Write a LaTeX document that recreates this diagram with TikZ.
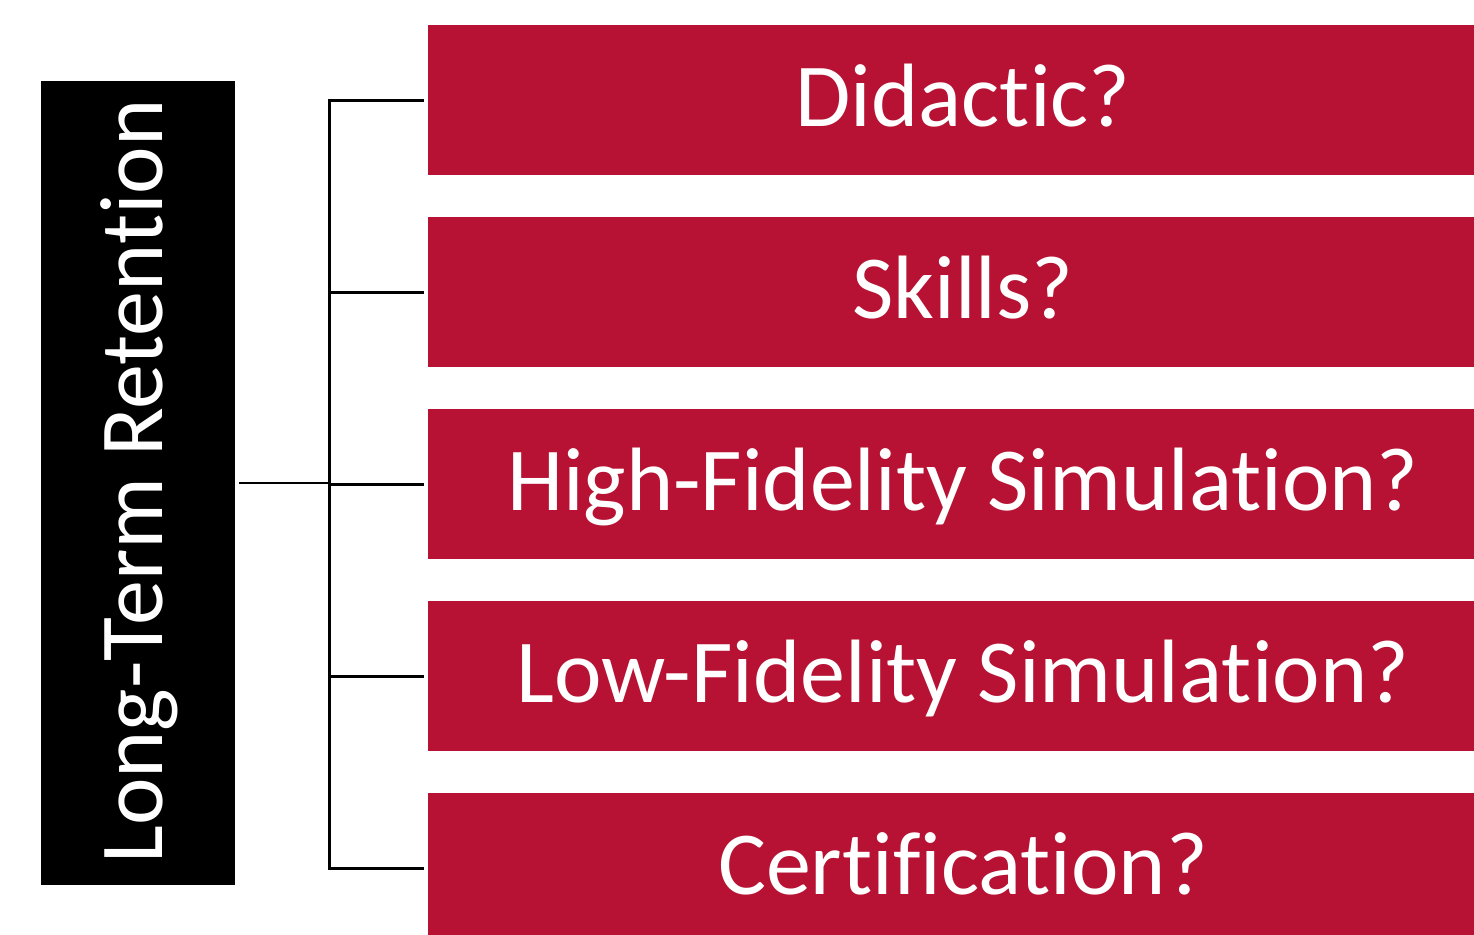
\documentclass[tikz,border=0pt]{standalone}
\usepackage{fontspec}
\setmainfont{Carlito}[Ligatures={NoCommon,NoContextual}, RawFeature=-liga]
\definecolor{boxred}{HTML}{B71234}
\begin{document}
\begin{tikzpicture}[x=1pt, y=1pt, line width=2.5pt]
    \useasboundingbox (0,0) rectangle (1474,-934);
    \tikzset{
        redbox/.style={fill=boxred, minimum width=1073pt, minimum height=150pt, inner sep=0pt, anchor=north west},
        boxtext/.style={text=white, anchor=base, inner sep=0pt, font=\fontsize{90}{100}\selectfont},
    }
    
    \node[fill=black, minimum width=194pt, minimum height=804pt, inner sep=0pt] (lt) at (138,-483) {};
    \node[text=white, rotate=90, anchor=base, inner sep=0pt, font=\fontsize{90}{100}\selectfont] (lttext) at (162,-481.5) {Long-Term Retention};
    
    \foreach \i/\t in {1/Didactic?, 2/Skills?, 3/High-Fidelity Simulation?, 4/Low-Fidelity Simulation?, 5/Certification?}
    {
        \node[redbox] (b\i) at (427, -24-192*\i+192) {};
        \node[boxtext] (t\i) at (963, -126-192*\i+192) {\t};
    }
    
    \draw[shorten <=3pt] (lt.east) -- ++(93,0) coordinate (hub);
    \foreach \i in {1,...,5}
    {
        \draw[shorten >=3pt] (hub) |- (b\i.west);
    }
    
\end{tikzpicture}
\end{document}
